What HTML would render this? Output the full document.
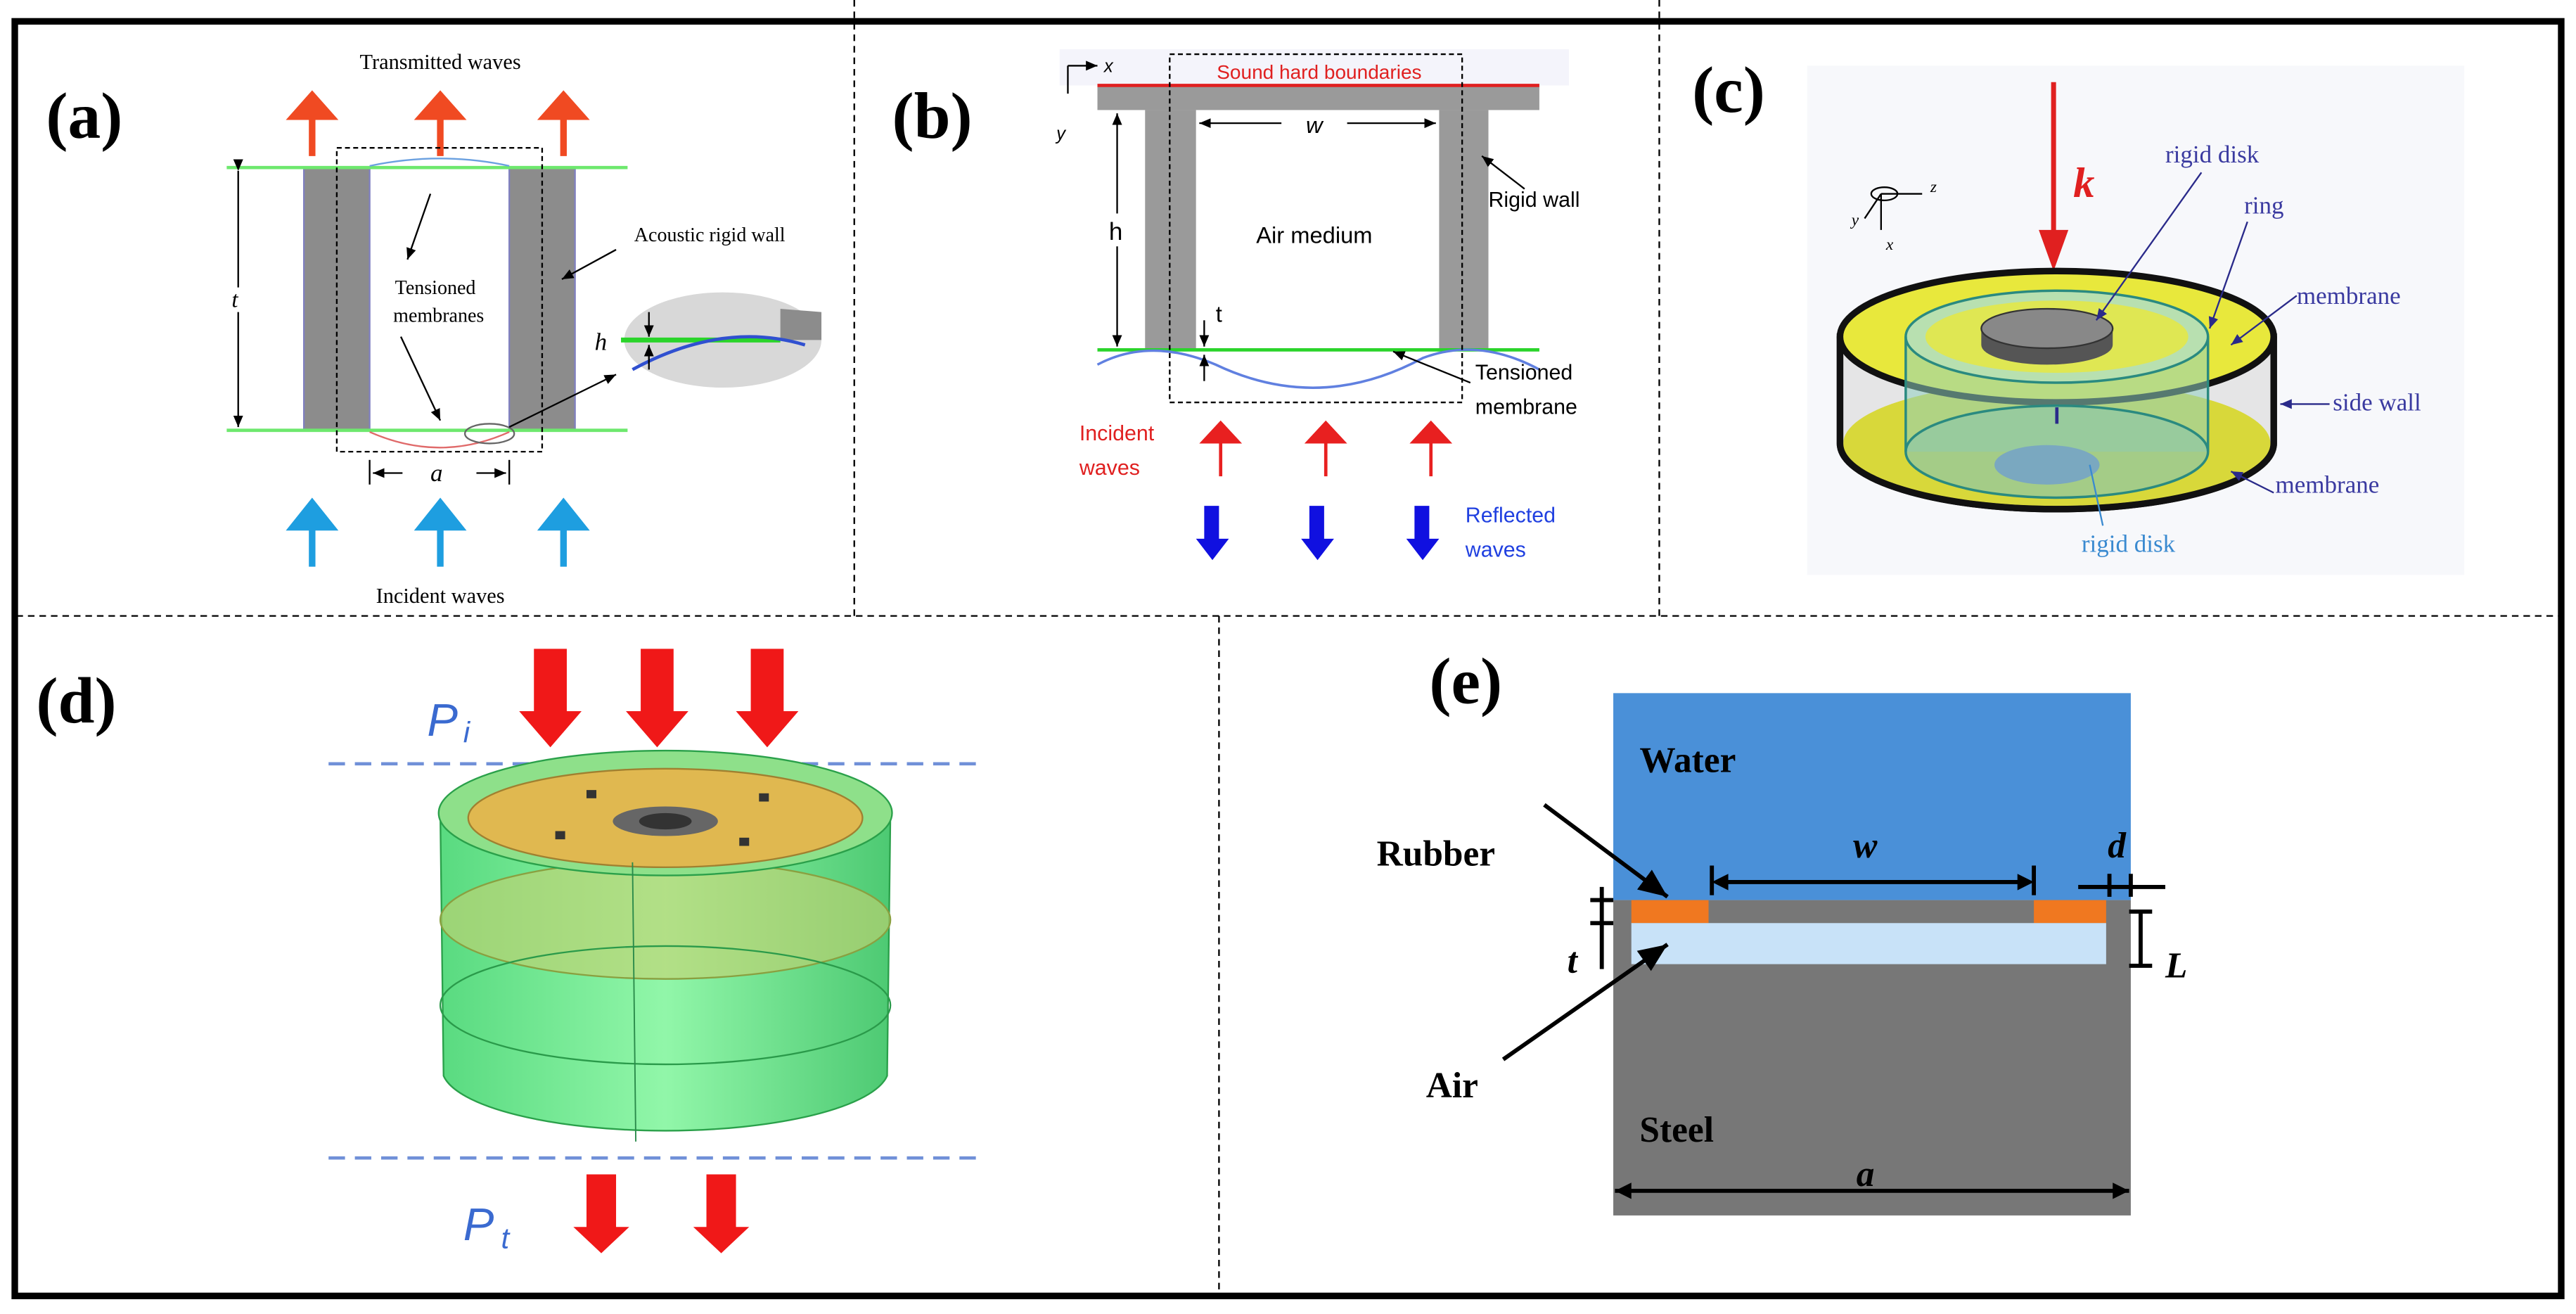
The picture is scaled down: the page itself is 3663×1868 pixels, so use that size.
<!DOCTYPE html>
<html><head><meta charset="utf-8"><style>html,body{margin:0;padding:0;background:#fff}svg{display:block}</style></head><body>
<svg width="3663" height="1868" viewBox="0 0 1568 800" preserveAspectRatio="none" xmlns="http://www.w3.org/2000/svg">
<defs>
<marker id="ah" markerWidth="8" markerHeight="8" refX="7" refY="4" orient="auto"><path d="M0,1 L7,4 L0,7 Z" fill="#000"/></marker>
<marker id="ahb" markerWidth="8" markerHeight="8" refX="7" refY="4" orient="auto"><path d="M0,1 L7,4 L0,7 Z" fill="#2a2a8a"/></marker>
<linearGradient id="gcyl" x1="0" x2="1"><stop offset="0" stop-color="#3cd46a"/><stop offset="0.5" stop-color="#7ef59a"/><stop offset="1" stop-color="#2ec05a"/></linearGradient>
</defs>
<rect x="0" y="0" width="1568" height="800" fill="#fff"/>
<rect x="9" y="13" width="1550" height="776" fill="none" stroke="#000" stroke-width="4"/>
<g stroke="#000" stroke-width="1" stroke-dasharray="4,3">
<line x1="520" y1="0" x2="520" y2="375"/><line x1="1010" y1="0" x2="1010" y2="375"/>
<line x1="10" y1="375" x2="1558" y2="375"/><line x1="742" y1="375" x2="742" y2="790"/>
</g>
<g font-family="Liberation Serif, serif" font-weight="bold" font-size="40">
<text x="28" y="84">(a)</text><text x="543" y="84">(b)</text><text x="1030" y="68">(c)</text><text x="22" y="440">(d)</text><text x="870" y="428">(e)</text>
</g>
<!-- panel a -->
<text x="268" y="42" font-family="Liberation Serif, serif" font-size="13" text-anchor="middle">Transmitted waves</text>
<g fill="#f04a22"><path d="M178,95 h10 v-22 h-14 l16,-18 l16,18 h-14 v22 z"/><path d="M256,95 h10 v-22 h-14 l16,-18 l16,18 h-14 v22 z"/><path d="M331,95 h10 v-22 h-14 l16,-18 l16,18 h-14 v22 z"/></g>
<rect x="185" y="102" width="40" height="160" fill="#8c8c8c" stroke="#8080c0" stroke-width="1"/>
<rect x="310" y="102" width="40" height="160" fill="#8c8c8c" stroke="#8080c0" stroke-width="1"/>
<line x1="138" y1="102" x2="382" y2="102" stroke="#6ee86e" stroke-width="2"/>
<line x1="138" y1="262" x2="382" y2="262" stroke="#6ee86e" stroke-width="2"/>
<path d="M225,101 Q268,92 310,101" stroke="#6aa0e0" fill="none"/>
<path d="M225,263 Q268,282 310,263" stroke="#e06a6a" fill="none"/>
<rect x="205" y="90" width="125" height="185" fill="none" stroke="#000" stroke-dasharray="3,2"/>
<line x1="145" y1="104" x2="145" y2="175" stroke="#000" marker-start="url(#ah)"/>
<line x1="145" y1="190" x2="145" y2="260" stroke="#000" marker-end="url(#ah)"/>
<text x="141" y="187" font-family="Liberation Serif, serif" font-style="italic" font-size="14">t</text>
<text x="432" y="147" font-family="Liberation Serif, serif" font-size="12" text-anchor="middle">Acoustic rigid wall</text>
<line x1="375" y1="152" x2="342" y2="170" stroke="#000" marker-end="url(#ah)"/>
<text x="265" y="179" font-family="Liberation Serif, serif" font-size="12" text-anchor="middle">Tensioned</text>
<text x="267" y="196" font-family="Liberation Serif, serif" font-size="12" text-anchor="middle">membranes</text>
<line x1="262" y1="118" x2="248" y2="158" stroke="#000" marker-end="url(#ah)"/>
<line x1="244" y1="205" x2="268" y2="256" stroke="#000" marker-end="url(#ah)"/>
<ellipse cx="440" cy="207" rx="60" ry="29" fill="#d8d8d8"/>
<path d="M475,188 L475,207 L500,207 L500,190 Z" fill="#8c8c8c"/>
<line x1="378" y1="207" x2="475" y2="207" stroke="#2ad42a" stroke-width="3"/>
<path d="M385,225 Q440,195 490,210" stroke="#3050d0" stroke-width="2" fill="none"/>
<text x="362" y="213" font-family="Liberation Serif, serif" font-style="italic" font-size="15">h</text>
<line x1="395" y1="190" x2="395" y2="205" stroke="#000" marker-end="url(#ah)"/><line x1="395" y1="225" x2="395" y2="210" stroke="#000" marker-end="url(#ah)"/>
<ellipse cx="298" cy="264" rx="15" ry="6" fill="none" stroke="#666"/>
<line x1="310" y1="260" x2="375" y2="228" stroke="#000" marker-end="url(#ah)"/>
<line x1="225" y1="280" x2="225" y2="295" stroke="#000"/><line x1="310" y1="280" x2="310" y2="295" stroke="#000"/>
<line x1="245" y1="288" x2="227" y2="288" stroke="#000" marker-end="url(#ah)"/><line x1="290" y1="288" x2="308" y2="288" stroke="#000" marker-end="url(#ah)"/>
<text x="262" y="293" font-family="Liberation Serif, serif" font-style="italic" font-size="15">a</text>
<g fill="#1e9ee0"><path d="M178,345 h10 v-22 h-14 l16,-20 l16,20 h-14 v22 z"/><path d="M256,345 h10 v-22 h-14 l16,-20 l16,20 h-14 v22 z"/><path d="M331,345 h10 v-22 h-14 l16,-20 l16,20 h-14 v22 z"/></g>
<text x="268" y="367" font-family="Liberation Serif, serif" font-size="13" text-anchor="middle">Incident waves</text>
<!-- panel b -->
<rect x="645" y="30" width="310" height="22" fill="#f4f4fb"/>
<rect x="668" y="52" width="269" height="15" fill="#9a9a9a"/>
<line x1="668" y1="52" x2="937" y2="52" stroke="#e02020" stroke-width="2"/>
<text x="803" y="48" font-family="Liberation Sans, sans-serif" font-size="12" fill="#e02020" text-anchor="middle">Sound hard boundaries</text>
<rect x="697" y="67" width="31" height="146" fill="#9a9a9a"/><rect x="876" y="67" width="30" height="146" fill="#9a9a9a"/>
<line x1="668" y1="213" x2="937" y2="213" stroke="#2ad42a" stroke-width="2"/>
<path d="M668,222 Q700,205 740,222 Q803,252 866,218 Q900,205 937,225" stroke="#6080e0" stroke-width="1.5" fill="none"/>
<rect x="712" y="33" width="178" height="212" fill="none" stroke="#000" stroke-dasharray="3,2"/>
<line x1="650" y1="40" x2="650" y2="57" stroke="#000"/><line x1="650" y1="40" x2="668" y2="40" stroke="#000" marker-end="url(#ah)"/>
<text x="672" y="44" font-family="Liberation Sans, sans-serif" font-style="italic" font-size="11">x</text>
<text x="643" y="85" font-family="Liberation Sans, sans-serif" font-style="italic" font-size="11">y</text>
<line x1="780" y1="75" x2="730" y2="75" stroke="#000" marker-end="url(#ah)"/><line x1="820" y1="75" x2="874" y2="75" stroke="#000" marker-end="url(#ah)"/>
<text x="800" y="81" font-family="Liberation Sans, sans-serif" font-style="italic" font-size="14" text-anchor="middle">w</text>
<line x1="680" y1="130" x2="680" y2="69" stroke="#000" marker-end="url(#ah)"/><line x1="680" y1="150" x2="680" y2="211" stroke="#000" marker-end="url(#ah)"/>
<text x="675" y="146" font-family="Liberation Sans, sans-serif" font-size="15">h</text>
<text x="800" y="148" font-family="Liberation Sans, sans-serif" font-size="14" text-anchor="middle">Air medium</text>
<text x="906" y="126" font-family="Liberation Sans, sans-serif" font-size="13">Rigid wall</text>
<line x1="928" y1="115" x2="902" y2="95" stroke="#000" marker-end="url(#ah)"/>
<line x1="733" y1="195" x2="733" y2="211" stroke="#000" marker-end="url(#ah)"/><line x1="733" y1="232" x2="733" y2="216" stroke="#000" marker-end="url(#ah)"/>
<text x="740" y="196" font-family="Liberation Sans, sans-serif" font-size="14">t</text>
<text x="898" y="231" font-family="Liberation Sans, sans-serif" font-size="13">Tensioned</text>
<text x="898" y="252" font-family="Liberation Sans, sans-serif" font-size="13">membrane</text>
<line x1="895" y1="233" x2="848" y2="214" stroke="#000" marker-end="url(#ah)"/>
<text x="657" y="268" font-family="Liberation Sans, sans-serif" font-size="13" fill="#e02020">Incident</text>
<text x="657" y="289" font-family="Liberation Sans, sans-serif" font-size="13" fill="#e02020">waves</text>
<g fill="#e82020"><path d="M733,290 h9 v-20 h-12 l13,-14 l13,14 h-12 v20 z"/><path d="M797,290 h9 v-20 h-12 l13,-14 l13,14 h-12 v20 z"/><path d="M861,290 h9 v-20 h-12 l13,-14 l13,14 h-12 v20 z"/></g>
<g fill="#1010e0"><path d="M733,308 h9 v20 h6 l-10,13 l-10,-13 h5 z"/><path d="M797,308 h9 v20 h6 l-10,13 l-10,-13 h5 z"/><path d="M861,308 h9 v20 h6 l-10,13 l-10,-13 h5 z"/></g>
<text x="892" y="318" font-family="Liberation Sans, sans-serif" font-size="13" fill="#2040e0">Reflected</text>
<text x="892" y="339" font-family="Liberation Sans, sans-serif" font-size="13" fill="#2040e0">waves</text>
<!-- panel c -->
<rect x="1100" y="40" width="400" height="310" fill="#f7f8fb"/>
<line x1="1250" y1="50" x2="1250" y2="150" stroke="#e02020" stroke-width="3"/>
<path d="M1241,140 L1259,140 L1250,165 Z" fill="#e02020"/>
<text x="1262" y="120" font-family="Liberation Serif, serif" font-style="italic" font-weight="bold" font-size="26" fill="#e02020">k</text>
<line x1="1145" y1="118" x2="1170" y2="118" stroke="#000"/><line x1="1145" y1="118" x2="1145" y2="140" stroke="#000"/><line x1="1145" y1="118" x2="1135" y2="133" stroke="#000"/>
<ellipse cx="1147" cy="118" rx="8" ry="4" fill="none" stroke="#000"/>
<text x="1175" y="117" font-family="Liberation Serif, serif" font-style="italic" font-size="10">z</text>
<text x="1127" y="137" font-family="Liberation Serif, serif" font-style="italic" font-size="10">y</text>
<text x="1148" y="152" font-family="Liberation Serif, serif" font-style="italic" font-size="10">x</text>
<path d="M1120,205 L1120,270 A132,40 0 0 0 1384,270 L1384,205 Z" fill="#d8d8d8" stroke="#111" stroke-width="4" fill-opacity="0.6"/>
<ellipse cx="1252" cy="270" rx="130" ry="38" fill="#d8d83a"/>
<path d="M1120,205 L1120,270 A132,40 0 0 0 1384,270 L1384,205" fill="none" stroke="#111" stroke-width="4"/>
<ellipse cx="1252" cy="205" rx="132" ry="40" fill="#e8e83c" stroke="#111" stroke-width="4"/>
<rect x="1160" y="205" width="184" height="70" fill="#8fd0c0" fill-opacity="0.55"/>
<ellipse cx="1252" cy="205" rx="92" ry="28" fill="#b8e0b0" stroke="#2a8a80" stroke-width="1.5"/>
<ellipse cx="1252" cy="275" rx="92" ry="28" fill="#8fc8a8" fill-opacity="0.7" stroke="#2a8a80" stroke-width="1.5"/>
<line x1="1160" y1="205" x2="1160" y2="275" stroke="#2a8a80" stroke-width="1.5"/><line x1="1344" y1="205" x2="1344" y2="275" stroke="#2a8a80" stroke-width="1.5"/>
<ellipse cx="1252" cy="205" rx="80" ry="22" fill="#e8e83c" fill-opacity="0.8"/>
<ellipse cx="1246" cy="283" rx="32" ry="12" fill="#7aa8c0"/>
<path d="M1206,200 L1206,210 A40,12 0 0 0 1286,210 L1286,200 Z" fill="#555"/>
<ellipse cx="1246" cy="200" rx="40" ry="12" fill="#888" stroke="#333"/>
<line x1="1252" y1="248" x2="1252" y2="258" stroke="#2a2a8a" stroke-width="2"/>
<g font-family="Liberation Serif, serif" font-size="15" fill="#3a3aa0">
<text x="1318" y="99">rigid disk</text><text x="1366" y="130">ring</text><text x="1398" y="185">membrane</text><text x="1420" y="250">side wall</text><text x="1385" y="300">membrane</text>
</g>
<text x="1267" y="336" font-family="Liberation Serif, serif" font-size="15" fill="#3a8ad0">rigid disk</text>
<g stroke="#2a2a8a" fill="none">
<line x1="1340" y1="105" x2="1276" y2="195" marker-end="url(#ahb)"/>
<line x1="1368" y1="135" x2="1345" y2="200" marker-end="url(#ahb)"/>
<line x1="1398" y1="180" x2="1358" y2="210" marker-end="url(#ahb)"/>
<line x1="1418" y1="246" x2="1388" y2="246" marker-end="url(#ahb)"/>
<line x1="1384" y1="300" x2="1358" y2="287" marker-end="url(#ahb)"/>
<line x1="1280" y1="320" x2="1272" y2="283" stroke="#3a8ad0"/>
</g>
<!-- panel d -->
<text x="260" y="448" font-family="Liberation Sans, sans-serif" font-style="italic" font-size="28" fill="#3a6ad0">P</text><text x="282" y="452" font-family="Liberation Sans, sans-serif" font-style="italic" font-size="18" fill="#3a6ad0">i</text>
<g fill="#f01818"><path d="M325,395 h20 v38 h9 l-19,22 l-19,-22 h9 z"/><path d="M390,395 h20 v38 h9 l-19,22 l-19,-22 h9 z"/><path d="M457,395 h20 v38 h9 l-19,22 l-19,-22 h9 z"/></g>
<line x1="200" y1="465" x2="598" y2="465" stroke="#7090d8" stroke-width="2" stroke-dasharray="10,6"/>
<path d="M268,495 L270,655 A136,38 0 0 0 540,655 L542,495 Z" fill="url(#gcyl)" fill-opacity="0.85" stroke="#2aa04a"/>
<ellipse cx="405" cy="560" rx="137" ry="36" fill="#c8d070" fill-opacity="0.6" stroke="#8aa040"/>
<ellipse cx="405" cy="612" rx="137" ry="36" fill="none" stroke="#2a9a4a"/>
<ellipse cx="405" cy="495" rx="138" ry="38" fill="#8ee08a" stroke="#2aa04a"/>
<ellipse cx="405" cy="498" rx="120" ry="30" fill="#e0b850" stroke="#a08030"/>
<ellipse cx="405" cy="500" rx="32" ry="9" fill="#666"/><ellipse cx="405" cy="500" rx="16" ry="5" fill="#333"/>
<g fill="#333"><rect x="357" y="481" width="6" height="5"/><rect x="462" y="483" width="6" height="5"/><rect x="338" y="506" width="6" height="5"/><rect x="450" y="510" width="6" height="5"/></g>
<line x1="385" y1="525" x2="387" y2="695" stroke="#2a8a4a" stroke-width="0.8"/>
<line x1="200" y1="705" x2="598" y2="705" stroke="#7090d8" stroke-width="2" stroke-dasharray="10,6"/>
<text x="282" y="755" font-family="Liberation Sans, sans-serif" font-style="italic" font-size="28" fill="#3a6ad0">P</text><text x="305" y="760" font-family="Liberation Sans, sans-serif" font-style="italic" font-size="18" fill="#3a6ad0">t</text>
<g fill="#f01818"><path d="M357,715 h18 v32 h8 l-17,16 l-17,-16 h8 z"/><path d="M430,715 h18 v32 h8 l-17,16 l-17,-16 h8 z"/></g>
<!-- panel e -->
<rect x="982" y="422" width="315" height="126" fill="#4a90d8"/>
<rect x="982" y="548" width="315" height="192" fill="#777"/>
<rect x="993" y="548" width="47" height="14" fill="#f07820"/><rect x="1238" y="548" width="44" height="14" fill="#f07820"/>
<rect x="993" y="562" width="289" height="25" fill="#c8e2f8"/>
<g font-family="Liberation Serif, serif" font-weight="bold" font-size="22">
<text x="998" y="470">Water</text><text x="838" y="527">Rubber</text><text x="868" y="668">Air</text><text x="998" y="695">Steel</text>
</g>
<g font-family="Liberation Serif, serif" font-weight="bold" font-style="italic" font-size="22">
<text x="1128" y="522">w</text><text x="1283" y="522">d</text><text x="954" y="592">t</text><text x="1318" y="595">L</text><text x="1130" y="722">a</text>
</g>
<g stroke="#000" stroke-width="2.5">
<line x1="940" y1="490" x2="1015" y2="546" marker-end="url(#ah)"/>
<line x1="915" y1="645" x2="1015" y2="575" marker-end="url(#ah)"/>
<line x1="1042" y1="527" x2="1042" y2="545"/><line x1="1238" y1="527" x2="1238" y2="545"/>
<line x1="1046" y1="537" x2="1234" y2="537"/>
<line x1="983" y1="725" x2="1296" y2="725"/>
<line x1="1303" y1="555" x2="1303" y2="588"/><line x1="1296" y1="555" x2="1310" y2="555"/><line x1="1296" y1="588" x2="1310" y2="588"/>
<line x1="975" y1="540" x2="975" y2="590"/>
<line x1="968" y1="548" x2="982" y2="548"/><line x1="968" y1="562" x2="982" y2="562"/>
<line x1="1265" y1="540" x2="1318" y2="540"/>
<line x1="1284" y1="532" x2="1284" y2="546"/><line x1="1297" y1="532" x2="1297" y2="546"/>
</g>
<g fill="#000"><path d="M1042,537 l10,-5 v10 z"/><path d="M1238,537 l-10,-5 v10 z"/><path d="M983,725 l10,-5 v10 z"/><path d="M1296,725 l-10,-5 v10 z"/></g>
</svg>
</body></html>
